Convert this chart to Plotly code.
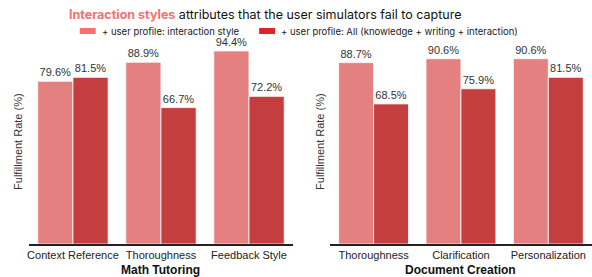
import plotly.graph_objects as go

W, H = 592, 277

series_names = ["+ user profile: interaction style",
                "+ user profile: All (knowledge + writing + interaction)"]

math_title = "Math Tutoring"
math_cats = ["Context Reference", "Thoroughness", "Feedback Style"]
math_style = [79.6, 88.9, 94.4]
math_all = [81.5, 66.7, 72.2]

doc_title = "Document Creation"
doc_cats = ["Thoroughness", "Clarification", "Personalization"]
doc_style = [88.7, 90.6, 90.6]
doc_all = [68.5, 75.9, 81.5]

y_label = "Fulfillment Rate (%)"

bar_colors = ["#E58080", "#C43E40"]
legend_colors = ["#F87171", "#DC2626"]

TICK_FONT = dict(family="Liberation Sans, Arial, sans-serif", size=11, color="#222")

fig = go.Figure()

panels = [
    (math_cats, [math_style, math_all], "x", "y"),
    (doc_cats, [doc_style, doc_all], "x2", "y2"),
]
for cats, vals_list, xa, ya in panels:
    for i, vals in enumerate(vals_list):
        fig.add_trace(go.Bar(
            x=cats, y=vals, name=series_names[i], xaxis=xa, yaxis=ya,
            marker=dict(color=bar_colors[i], line=dict(color="white", width=0.8)),
            text=[f"{v:.1f}%" for v in vals], textposition="outside",
            textfont=dict(family="Liberation Sans, Arial, sans-serif", size=11, color="#333"),
            cliponaxis=False, constraintext="none", showlegend=False,
            hoverinfo="skip",
        ))

def px(x):
    return x / W

def py(y):
    return 1 - y / H

ydom = [py(244), py(39.5)]
axis_common = dict(showline=True, linecolor="#222", linewidth=1.5, ticks="",
                   showgrid=False, zeroline=False, tickfont=TICK_FONT, fixedrange=True)
yaxis_common = dict(range=[0, 100], showticklabels=False, showgrid=False,
                    zeroline=False, showline=False, ticks="", fixedrange=True)

fig.update_layout(
    width=W, height=H, margin=dict(l=0, r=0, t=0, b=0),
    paper_bgcolor="white", plot_bgcolor="white",
    barmode="group", bargap=0.2, bargroupgap=0,
    xaxis=dict(domain=[px(27), px(292)], anchor="y", **axis_common),
    xaxis2=dict(domain=[px(329), px(592)], anchor="y2", **axis_common),
    yaxis=dict(domain=ydom, anchor="x", **yaxis_common),
    yaxis2=dict(domain=ydom, anchor="x2", **yaxis_common),
    showlegend=False,
)

annotations = []
# title
annotations.append(dict(
    x=px(263.5), y=py(14), xref="paper", yref="paper", xanchor="center", yanchor="middle",
    text="<b><span style='color:#F87171'>Interaction styles</span></b> attributes that the user simulators fail to capture",
    showarrow=False, font=dict(family="Inter, sans-serif", size=12.5, color="#111"),
))
# custom legend
leg_items = [(78, series_names[0], legend_colors[0]), (258, series_names[1], legend_colors[1])]
shapes = []
for x0, name, col in leg_items:
    shapes.append(dict(type="rect", xref="paper", yref="paper",
                       x0=px(x0), x1=px(x0 + 16), y0=py(34), y1=py(28),
                       fillcolor=col, line=dict(width=0)))
    annotations.append(dict(
        x=px(x0 + 20), y=py(31), xref="paper", yref="paper", xanchor="left", yanchor="middle",
        text=name, showarrow=False, font=dict(family="Inter, sans-serif", size=9.5, color="#222"),
    ))
# axis titles
for xc, title in [(px((27 + 292) / 2), math_title), (px((329 + 592) / 2), doc_title)]:
    annotations.append(dict(
        x=xc, y=py(270), xref="paper", yref="paper", xanchor="center", yanchor="middle",
        text=f"<b>{title}</b>", showarrow=False,
        font=dict(family="Liberation Sans, Arial, sans-serif", size=12, color="#111"),
    ))
for xc in [px(16), px(319)]:
    annotations.append(dict(
        x=xc, y=py(141), xref="paper", yref="paper", xanchor="center", yanchor="middle",
        text=y_label, textangle=-90, showarrow=False,
        font=dict(family="Liberation Sans, Arial, sans-serif", size=11, color="#333"),
    ))

fig.update_layout(annotations=annotations, shapes=shapes)
fig.write_html("out.html", config={"displayModeBar": False},
               post_script="document.body.style.margin='0';document.body.style.overflow='hidden';")
